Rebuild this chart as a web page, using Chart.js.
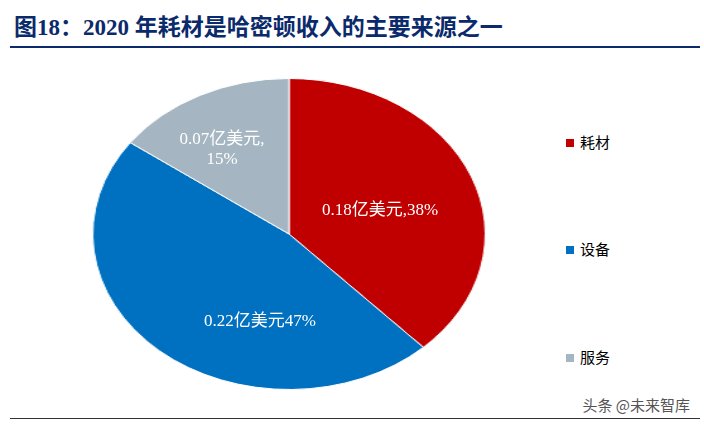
<!DOCTYPE html>
<html><head><meta charset="utf-8">
<script src="https://cdn.jsdelivr.net/npm/chart.js@4"></script>
<style>
body{margin:0;width:704px;height:425px;background:#fff;position:relative;overflow:hidden;font-family:"Liberation Serif","Noto Sans CJK SC",serif}
#title{position:absolute;left:14px;top:8px;font-size:23px;font-weight:bold;color:#0b2a6b;font-family:"Liberation Serif","Noto Sans CJK SC",serif}
#rule{position:absolute;left:10px;top:46px;width:690px;height:2px;background:#0b2a6b}
#foot{position:absolute;left:10px;top:418px;width:690px;height:1px;background:#333}
#wrap{position:absolute;left:133px;top:78px;width:312px;height:312px;transform:scaleX(1.262);transform-origin:50% 50%}
.lab{position:absolute;color:#fff;font-size:17px;text-align:center;white-space:nowrap;transform:translate(-50%,-50%)}
.leg{position:absolute;left:566px;font-size:15px;color:#000;font-family:"Noto Sans CJK SC",sans-serif}
.leg i{display:inline-block;width:8px;height:8px;margin-right:6px;vertical-align:1px}
#wm{position:absolute;right:14px;top:394px;color:#555;font-size:15px;font-family:"Noto Sans CJK SC",sans-serif}
</style></head><body>
<div id="title">图18：2020 年耗材是哈密顿收入的主要来源之一</div>
<div id="rule"></div>
<div id="wrap"><canvas id="c"></canvas></div>
<div id="labels"></div>
<div id="legend"></div>
<div id="wm">头条 @未来智库</div>
<div id="foot"></div>
<script>
const categories = ['耗材', '设备', '服务'];
const values = [38, 47, 15];
const amounts = ['0.18亿美元', '0.22亿美元', '0.07亿美元'];
const colors = ['#C00000', '#0070C0', '#A5B6C2'];

new Chart(document.getElementById('c'), {
    type: 'pie',
    data: {labels: categories, datasets: [{data: values, backgroundColor: colors, borderColor: '#fff', borderWidth: 1}]},
    options: {responsive: true, maintainAspectRatio: true, animation: false, layout: {padding: 0},
        plugins: {legend: {display: false}, tooltip: {enabled: false}}}
});

// in-slice labels
const labelText = [
    amounts[0] + ',' + values[0] + '%',
    amounts[1] + values[1] + '%',
    amounts[2] + ',<br>' + values[2] + '%'
];
const labelPos = [[380, 207], [260, 318], [222, 146]];
document.getElementById('labels').innerHTML = labelText.map((t, i) =>
    `<div class="lab" style="left:${labelPos[i][0]}px;top:${labelPos[i][1]}px">${t}</div>`).join('');

const legTop = [131, 238, 346];
document.getElementById('legend').innerHTML = categories.map((c, i) =>
    `<div class="leg" style="top:${legTop[i]}px"><i style="background:${colors[i]}"></i>${c}</div>`).join('');
</script>
</body></html>
